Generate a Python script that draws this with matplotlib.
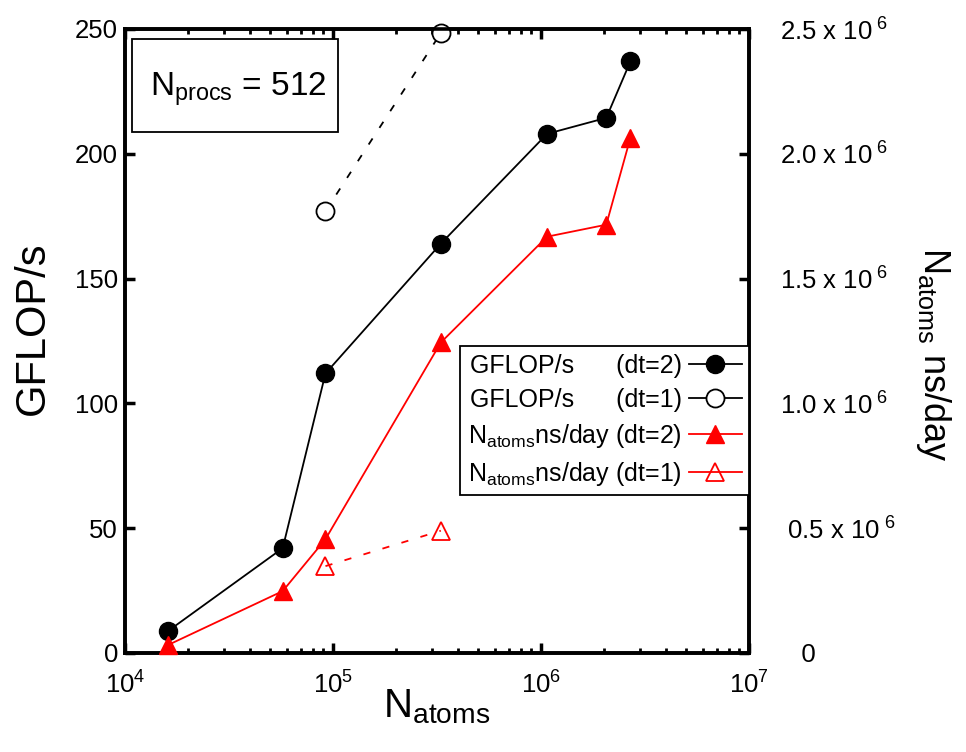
import matplotlib
matplotlib.use("Agg")
import matplotlib.pyplot as plt
from matplotlib.patches import Rectangle
from matplotlib.ticker import LogLocator, NullFormatter

plt.rcParams["font.family"] = ["Liberation Sans", "DejaVu Sans"]
plt.rcParams["mathtext.fontset"] = "custom"
plt.rcParams["mathtext.rm"] = "Liberation Sans"
plt.rcParams["mathtext.it"] = "Liberation Sans:italic"
plt.rcParams["mathtext.bf"] = "Liberation Sans:bold"

# Number of atoms in each benchmark system
n_atoms_dt2 = [1.61e4, 5.73e4, 9.2e4, 3.3e5, 1.07e6, 2.06e6, 2.69e6]
n_atoms_dt1 = [9.2e4, 3.3e5]

# Sustained GFLOP/s
gflops_dt2 = [8.8, 42, 112, 164, 208, 214.4, 237]
gflops_dt1 = [177, 248.4]

# Throughput: N_atoms * ns/day
nsday_dt2 = [0.032e6, 0.248e6, 0.456e6, 1.244e6, 1.668e6, 1.716e6, 2.064e6]
nsday_dt1 = [0.348e6, 0.49e6]

x_ticks = [1e4, 1e5, 1e6, 1e7]
x_ticklabels = [r"10$^{4}$", r"10$^{5}$", r"10$^{6}$", r"10$^{7}$"]
left_ticks = [0, 50, 100, 150, 200, 250]
right_ticks = [0, 0.5e6, 1.0e6, 1.5e6, 2.0e6, 2.5e6]
right_ticklabels = ["   0", r" 0.5 x 10$^{\ 6}$", r"1.0 x 10$^{\ 6}$",
                    r"1.5 x 10$^{\ 6}$", r"2.0 x 10$^{\ 6}$", r"2.5 x 10$^{\ 6}$"]

fig = plt.figure(figsize=(9.66, 7.52), dpi=100)
ax = fig.add_axes([125 / 966, 99 / 752, 624 / 966, 624 / 752])
ax2 = ax.twinx()

spine_w = 2.6
for a in (ax, ax2):
    for s in a.spines.values():
        s.set_linewidth(spine_w)

ms = 13
lw = 1.3
ax.plot(n_atoms_dt2, gflops_dt2, "-", color="black", lw=lw, marker="o",
        ms=ms, mfc="black", mec="black", label="GFLOP/s      (dt=2)", zorder=3)
ax.plot(n_atoms_dt1, gflops_dt1, color="black", lw=lw, dashes=(4, 7),
        marker="o", ms=ms, mfc="white", mec="black", mew=1.3,
        label="GFLOP/s      (dt=1)", zorder=3, clip_on=False)
ax2.plot(n_atoms_dt2, nsday_dt2, "-", color="red", lw=lw, marker="^",
         ms=ms, mfc="red", mec="red",
         label=r"N$_{\mathrm{atoms}}$ns/day (dt=2)", zorder=3, clip_on=False)
ax2.plot(n_atoms_dt1, nsday_dt1, color="red", lw=lw, dashes=(4, 7),
         marker="^", ms=ms, mfc="none", mec="red", mew=1.3,
         label=r"N$_{\mathrm{atoms}}$ns/day (dt=1)", zorder=3)

ax.set_xscale("log")
ax.set_xlim(1e4, 1e7)
ax.set_ylim(0, 250)
ax2.set_ylim(0, 2.5e6)

ax.set_xticks(x_ticks)
ax.set_xticklabels(x_ticklabels)
ax.xaxis.set_minor_locator(LogLocator(base=10, subs=range(2, 10), numticks=20))
ax.xaxis.set_minor_formatter(NullFormatter())
ax.set_yticks(left_ticks)
ax.set_yticklabels([str(v) for v in left_ticks])
ax2.set_yticks(right_ticks)
ax2.set_yticklabels(right_ticklabels)

ax.tick_params(axis="both", which="major", direction="in", length=7, width=2.5,
               labelsize=18.5, top=True, right=False)
ax.tick_params(axis="x", which="minor", direction="in", length=3.5, width=2,
               top=True)
ax.tick_params(axis="x", which="major", pad=13)
ax.tick_params(axis="y", which="major", pad=5)
ax2.tick_params(axis="y", which="major", direction="in", length=7, width=2.5,
                labelsize=18.5, pad=22)
for lab in ax2.get_yticklabels():
    lab.set_horizontalalignment("left")

ax.set_xlabel(r"N$_{\mathrm{atoms}}$", fontsize=29)
ax.xaxis.set_label_coords(0.5, -0.055)
ax.set_ylabel("GFLOP/s", fontsize=30)
ax.yaxis.set_label_coords(-0.115, 0.52)
ax2.set_ylabel(r"N$_{\mathrm{atoms}}$ ns/day", fontsize=26, rotation=270,
               va="bottom")
ax2.yaxis.set_label_coords(1.264, 0.478)

# Processor count annotation box
ax.add_patch(Rectangle((7 / 624, (653 - 132) / 624), 206 / 624, 93 / 624,
                       transform=ax.transAxes, fill=False, ec="black",
                       lw=1.3, zorder=4))
ax.text(0.181, (653 - 96) / 624, r"N$_{\mathrm{procs}}$ = 512", fontsize=24,
        transform=ax.transAxes, ha="center", va="baseline", zorder=5)

h1, l1 = ax.get_legend_handles_labels()
h2, l2 = ax2.get_legend_handles_labels()
leg = ax2.legend(h1 + h2, l1 + l2, loc="upper right",
                 bbox_to_anchor=(1.0, (653 - 346) / 624), borderaxespad=0,
                 markerfirst=False, fontsize=18, handlelength=2.1,
                 handletextpad=0.3, labelspacing=0.4, borderpad=0.3,
                 fancybox=False, framealpha=1, edgecolor="black")
leg.get_frame().set_linewidth(1.3)
leg.set_zorder(10)
for ln in leg.get_lines():
    ln.set_linestyle("-")

fig.savefig("out.png", dpi=100)
